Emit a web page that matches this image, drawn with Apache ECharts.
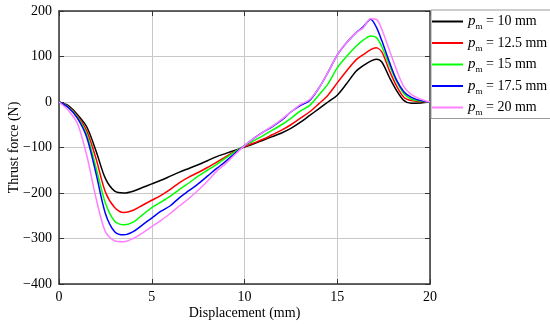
<!DOCTYPE html>
<html>
<head>
<meta charset="utf-8">
<script src="https://cdn.jsdelivr.net/npm/echarts@6/dist/echarts.min.js"></script>
<style>html,body{margin:0;padding:0;background:#fff;}#c{width:550px;height:324px;}</style>
</head>
<body>
<div id="c"></div>
<script>
var xs = [0,0.5,1,1.5,2,2.5,3,3.5,4,4.5,5,5.5,6,6.5,7,7.5,8,8.5,9,9.5,10,10.5,11,11.5,12,12.5,13,13.5,14,14.5,15,15.5,16,16.4,16.8,17.1,17.4,17.8,18.2,18.6,19,19.5,20];
var labels = ['10 mm','12.5 mm','15 mm','17.5 mm','20 mm'];
var pm10   = [0,-8,-28,-55,-108,-168,-196,-200,-196,-188,-180,-172,-163,-154,-146,-138,-129,-120,-113,-106,-99,-92,-84,-76,-68,-58,-45,-30,-15,0,15,40,67,80,90,94,88,55,25,3,-3,-2,0];
var pm12_5 = [0,-10,-31,-64,-125,-198,-232,-243,-238,-227,-216,-205,-192,-177,-165,-155,-144,-132,-120,-108,-98,-90,-82,-72,-62,-50,-36,-22,-4,15,42,68,92,104,115,119,110,70,35,10,3,1,0];
var pm15   = [0,-11,-34,-72,-145,-222,-262,-270,-264,-248,-232,-220,-207,-192,-178,-163,-150,-137,-123,-109,-96,-85,-74,-62,-50,-36,-20,-8,15,40,75,100,122,136,145,142,122,82,45,18,6,2,0];
var pm17_5 = [0,-12,-36,-78,-158,-245,-285,-292,-285,-270,-255,-240,-228,-210,-195,-180,-163,-146,-130,-112,-96,-80,-66,-54,-40,-22,-8,3,30,65,103,130,152,165,182,165,135,89,48,22,10,3,0];
var pm20   = [0,-18,-48,-118,-212,-285,-305,-307,-300,-288,-274,-260,-245,-228,-212,-194,-174,-152,-135,-115,-96,-80,-66,-53,-38,-22,-6,5,30,65,103,130,152,163,183,182,160,115,70,33,16,6,0];
var colors = ['#000000','#ff0000','#00ff00','#0000ff','#ff80ff'];
var values = [pm10, pm12_5, pm15, pm17_5, pm20];

function pairs(v){ return xs.map(function(x,i){ return [x, v[i]]; }); }

var font = 'Liberation Serif';
var series = values.map(function(v,i){
  return {
    name: labels[i], type: 'line', data: pairs(v), smooth: 0.3,
    showSymbol: false, symbol: 'none',
    lineStyle: {color: colors[i], width: 1.5}, itemStyle: {color: colors[i]},
    xAxisIndex: 0, yAxisIndex: 0, z: 3 + i
  };
});

var chart = echarts.init(document.getElementById('c'), null, {renderer: 'canvas'});
chart.setOption({
  animation: false,
  backgroundColor: '#ffffff',
  grid: {left: 59, right: 120, top: 11, bottom: 40, containLabel: false, outerBoundsMode: 'none'},
  legend: {
    orient: 'vertical', left: 431, top: 10,
    data: labels,
    icon: 'rect', itemWidth: 31, itemHeight: 2, itemGap: 4,
    borderColor: '#999', borderWidth: 1, padding: [4, 4, 1, 1],
    backgroundColor: '#fff',
    formatter: function(n){ return '{p|p}{m|m}{t| = ' + n + '}'; },
    textStyle: {
      fontFamily: font, color: '#000', fontSize: 14,
      rich: {
        p: {fontFamily: font, fontStyle: 'italic', fontSize: 15, color: '#000'},
        m: {fontFamily: font, fontSize: 9, color: '#000', padding: [11, 0, 0, 0]},
        t: {fontFamily: font, fontSize: 14, color: '#000'}
      }
    }
  },
  xAxis: [{
    type: 'value', min: 0, max: 20, interval: 5, position: 'bottom',
    name: 'Displacement (mm)', nameLocation: 'middle', nameGap: 22, nameMoveOverlap: false,
    nameTextStyle: {fontFamily: font, fontSize: 14, color: '#000'},
    axisLine: {show: true, onZero: false, lineStyle: {color: '#333', width: 1.5}},
    axisTick: {show: true, inside: true, length: 5, lineStyle: {color: '#333'}},
    axisLabel: {fontFamily: font, fontSize: 14, color: '#000', margin: 6},
    splitLine: {show: true, lineStyle: {color: '#c8c8c8', width: 1}}
  }, {
    type: 'value', min: 0, max: 20, interval: 5, position: 'top',
    axisLine: {show: true, onZero: false, lineStyle: {color: '#333', width: 1.5}},
    axisTick: {show: true, inside: true, length: 5, lineStyle: {color: '#333'}},
    axisLabel: {show: false}, splitLine: {show: false}
  }],
  yAxis: [{
    type: 'value', min: -400, max: 200, interval: 100, position: 'left',
    name: 'Thrust force (N)', nameLocation: 'middle', nameGap: 38, nameMoveOverlap: false,
    nameTextStyle: {fontFamily: font, fontSize: 14, color: '#000'},
    axisLine: {show: true, onZero: false, lineStyle: {color: '#333', width: 1.5}},
    axisTick: {show: true, inside: true, length: 5, lineStyle: {color: '#333'}},
    axisLabel: {fontFamily: font, fontSize: 14, color: '#000', margin: 7,
      formatter: function(v){ return v < 0 ? '\u2212' + Math.abs(v) : String(v); }},
    splitLine: {show: true, lineStyle: {color: '#c8c8c8', width: 1}}
  }, {
    type: 'value', min: -400, max: 200, interval: 100, position: 'right',
    axisLine: {show: true, onZero: false, lineStyle: {color: '#333', width: 1.5}},
    axisTick: {show: true, inside: true, length: 5, lineStyle: {color: '#333'}},
    axisLabel: {show: false}, splitLine: {show: false}
  }],
  series: series
});
</script>
</body>
</html>
